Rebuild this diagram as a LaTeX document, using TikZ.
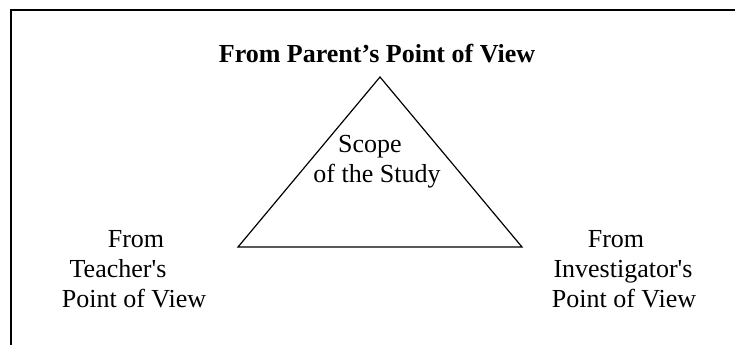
\documentclass[tikz,border=0pt]{standalone}
\usepackage{fontspec}
\setmainfont{Liberation Serif}
\usepackage{tikz}

\tikzset{
  txt/.style={anchor=base, inner sep=0pt, font=\fontsize{13}{15}\selectfont},
  heading/.style={anchor=base, inner sep=0pt, font=\fontsize{13}{15}\selectfont\bfseries},
  side/.style={black, line width=0.6pt},
  frame/.style={black, line width=1pt}
}

\begin{document}
\begin{tikzpicture}[x=0.5pt, y=-0.5pt]
            \useasboundingbox (0,0) rectangle (735,345);

            %% frame
            \draw[frame] (11,345) -- (11,10) -- (735,10);

            %% triangle
            \coordinate (apex)  at (380,77);
            \coordinate (left)  at (238,247);
            \coordinate (right) at (522,247);
            \draw[side] (apex) -- (left) -- (right) -- cycle;

            \node[heading] (parent) at (377,62) {From Parent's Point of View};

            \node[txt] (scope) at (370,152) {Scope};
            \node[txt] (study) at (377,182) {of the Study};

            %% teacher
            \node[txt] (tFrom)  at (136,247) {From};
            \node[txt] (tWho)   at (118,277) {Teacher\textquotesingle s};
            \node[txt] (tPoint) at (134,307) {Point of View};

            %% investigator
            \node[txt] (iFrom)  at (616,247) {From};
            \node[txt] (iWho)   at (623,277) {Investigator\textquotesingle s};
            \node[txt] (iPoint) at (624,307) {Point of View};

        \end{tikzpicture}
\end{document}
